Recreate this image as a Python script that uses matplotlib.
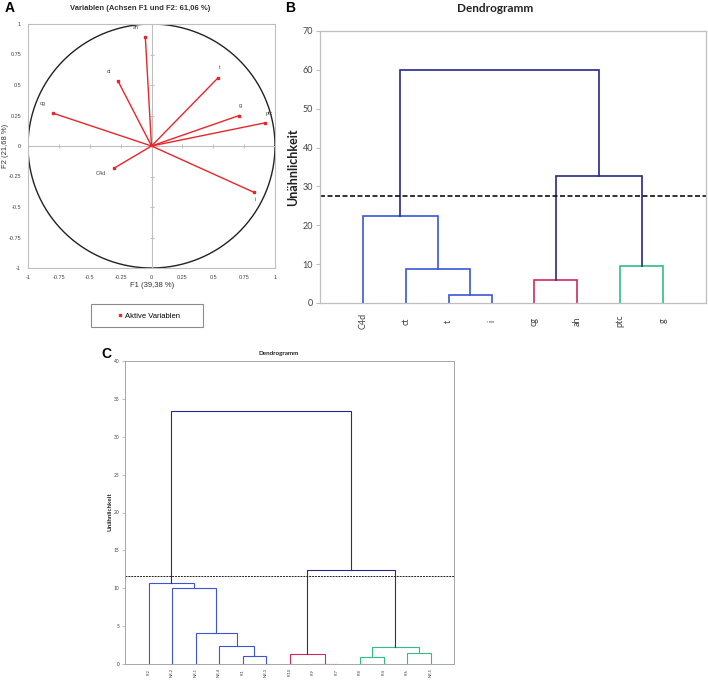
import numpy as np
import matplotlib
matplotlib.use('Agg')
from matplotlib import pyplot as plt
from matplotlib.patches import Rectangle
from matplotlib.lines import Line2D

plt.rcParams['font.family'] = ['Lato', 'DejaVu Sans']

# --- panel A: correlation circle ---
a_vars = ['ah', 'ct', 't', 'g', 'ptc', 'cg', 'C4d', 'i']
a_f1 = [-0.05, -0.27, 0.54, 0.71, 0.92, -0.80, -0.30, 0.83]
a_f2 = [0.89, 0.53, 0.56, 0.25, 0.19, 0.27, -0.18, -0.38]
a_ticks = [-1, -0.75, -0.5, -0.25, 0, 0.25, 0.5, 0.75, 1]
a_ticklabels = ['-1', '-0.75', '-0.5', '-0.25', '0', '0.25', '0.5', '0.75', '1']

# --- panel B: dendrogram of variables ---
b_leaves = ['C4d', 'ct', 't', 'i', 'cg', 'ah', 'ptc', 'g']
b_merges = [(2, 3, 2.1), (1, 8, 8.7), (0, 9, 22.3), (4, 5, 6.0),
            (6, 7, 9.5), (11, 12, 32.8), (10, 13, 60.0)]
b_groups = ['c1', 'c1', 'c1', 'c2', 'c3', 'top', 'top']
b_cut = 27.5

# --- panel C: dendrogram of samples ---
c_leaves = ['R.2', 'NR.2', 'NR.1', 'NR.4', 'R.1', 'NR.3', 'R.10', 'R.9',
            'R.7', 'R.8', 'R.4', 'R.6', 'NR.5']
c_merges = [(4, 5, 1.0), (3, 13, 2.37), (2, 14, 4.08), (1, 15, 10.08),
            (0, 16, 10.66), (7, 8, 0.05), (6, 18, 1.36), (9, 10, 0.92),
            (11, 12, 1.49), (20, 21, 2.24), (19, 22, 12.45), (17, 23, 33.4)]
c_groups = ['c1', 'c1', 'c1', 'c1', 'c1', 'c2', 'c2', 'c3', 'c3', 'c3',
            'top', 'top']
c_cut = 11.6

palette = {'c1': '#3a56d4', 'c2': '#cf2a5c', 'c3': '#2fbf86', 'top': '#28288a'}
red = '#e8262b'
grey = '#bfbfbf'

W, H = 708, 683
fig = plt.figure(figsize=(W / 100, H / 100), dpi=100)


def box(l, t, r, b):
    return [l / W, 1 - b / H, (r - l) / W, (b - t) / H]


def draw_dendro(ax, n, merges, groups, lw):
    xs = list(range(n))
    hs = [0.0] * n
    for (p, q, h), g in zip(merges, groups):
        ax.plot([xs[p], xs[p], xs[q], xs[q]], [hs[p], h, h, hs[q]],
                color=palette[g], lw=lw, solid_joinstyle='miter')
        xs.append((xs[p] + xs[q]) / 2)
        hs.append(h)


# panel A
axA = fig.add_axes(box(28, 24, 275, 268))
t = np.linspace(0, 2 * np.pi, 400)
axA.plot(np.cos(t), np.sin(t), color='#222222', lw=1.0)
axA.axhline(0, color=grey, lw=0.8)
axA.axvline(0, color=grey, lw=0.8)
axA.plot(np.zeros(len(a_ticks)), a_ticks, ls='none', marker='_', ms=3, color=grey, mew=0.8)
axA.plot(a_ticks, np.zeros(len(a_ticks)), ls='none', marker='|', ms=3, color=grey, mew=0.8)
offsets = [(-7, 7), (-7, 7), (1, 7), (1, 7), (3, 7), (-7, 7), (-10, -4), (1, -5)]
for name, x, y, off in zip(a_vars, a_f1, a_f2, offsets):
    axA.plot([0, x], [0, y], color=red, lw=1.0)
    axA.plot(x, y, marker='s', ms=2, color=red)
    axA.annotate(name, (x, y), xytext=off, textcoords='offset points',
                 fontsize=4, color='#444444', ha='center', va='center',
                 family='Liberation Sans')
axA.set_xlim(-1, 1)
axA.set_ylim(-1, 1)
axA.set_xticks(a_ticks, a_ticklabels)
axA.set_yticks(a_ticks, a_ticklabels)
axA.tick_params(length=0, labelsize=4, labelcolor='#444444', pad=5)
for lab in axA.get_xticklabels() + axA.get_yticklabels():
    lab.set_family('Liberation Sans')
for s in axA.spines.values():
    s.set_color(grey)
    s.set_linewidth(0.8)
fig.text(140 / W, 1 - 9 / H, 'Variablen (Achsen F1 und F2: 61,06 %)', ha='center',
         va='center', fontsize=5.5, weight='bold', family='Liberation Sans', color='#333333')
fig.text(152 / W, 1 - 286 / H, 'F1 (39,38 %)', ha='center', va='center',
         fontsize=5.5, family='Liberation Sans', color='#333333')
fig.text(6 / W, 1 - 146 / H, 'F2 (21,68 %)', ha='center', va='center', rotation=90,
         fontsize=5.5, family='Liberation Sans', color='#333333')
fig.add_artist(Rectangle((91 / W, 1 - 327 / H), 112 / W, 23 / H, transform=fig.transFigure,
                         fill=False, edgecolor='#8c8c8c', lw=0.8))
fig.legend(handles=[Line2D([], [], ls='none', marker='s', ms=2, color=red)],
           labels=['Aktive Variablen'], loc='center', bbox_to_anchor=(149 / W, 1 - 316 / H),
           frameon=False, handlelength=0.6, handletextpad=0.3,
           prop={'family': 'Liberation Sans', 'size': 5.5})

# panel B
axB = fig.add_axes(box(320, 31, 706, 303))
draw_dendro(axB, len(b_leaves), b_merges, b_groups, 1.2)
axB.axhline(b_cut, color='#111111', lw=1.2, ls=(0, (3, 1.5)))
axB.set_xlim(-1, len(b_leaves))
axB.set_ylim(0, 70)
axB.set_yticks(range(0, 71, 10))
axB.set_xticks(range(len(b_leaves)), b_leaves, rotation=90)
axB.tick_params(axis='y', length=3, color=grey, labelsize=6.5, labelcolor='#444444', pad=2)
axB.tick_params(axis='x', length=0, labelsize=6.5, labelcolor='#444444', pad=13)
for lab in axB.get_xticklabels():
    lab.set_va('center')
for s in axB.spines.values():
    s.set_color(grey)
    s.set_linewidth(0.9)
fig.text(495 / W, 1 - 9 / H, 'Dendrogramm', ha='center', va='center',
         fontsize=8.5, weight='bold', color='#222222')
fig.text(293 / W, 1 - 167 / H, 'Unähnlichkeit', ha='center', va='center', rotation=90,
         fontsize=9, weight='bold', color='#222222')

# panel C
axC = fig.add_axes(box(125, 361, 454, 664))
draw_dendro(axC, len(c_leaves), c_merges, c_groups, 0.8)
axC.axhline(c_cut, color='#222222', lw=0.7, ls=(0, (2, 1)))
axC.set_xlim(-1, len(c_leaves))
axC.set_ylim(0, 40)
axC.set_yticks(range(0, 41, 5))
axC.set_xticks(range(len(c_leaves)), c_leaves, rotation=90)
axC.tick_params(axis='y', length=2, color=grey, labelsize=3.5, labelcolor='#444444', pad=2)
axC.tick_params(axis='x', length=0, labelsize=3, labelcolor='#444444', pad=6)
for lab in axC.get_xticklabels():
    lab.set_va('center')
for s in axC.spines.values():
    s.set_color('#a6a6a6')
    s.set_linewidth(0.7)
fig.text(279 / W, 1 - 353 / H, 'Dendrogramm', ha='center', va='center',
         fontsize=4.5, weight='bold', color='#222222')
fig.text(110 / W, 1 - 512 / H, 'Unähnlichkeit', ha='center', va='center', rotation=90,
         fontsize=4.5, weight='bold', color='#222222')

# panel letters
for letter, x, y in [('A', 10, 8), ('B', 290, 8), ('C', 106, 354)]:
    fig.text(x / W, 1 - y / H, letter, ha='center', va='center', fontsize=10,
             weight='bold', family='Liberation Sans')

fig.savefig('out.png', dpi=100)
